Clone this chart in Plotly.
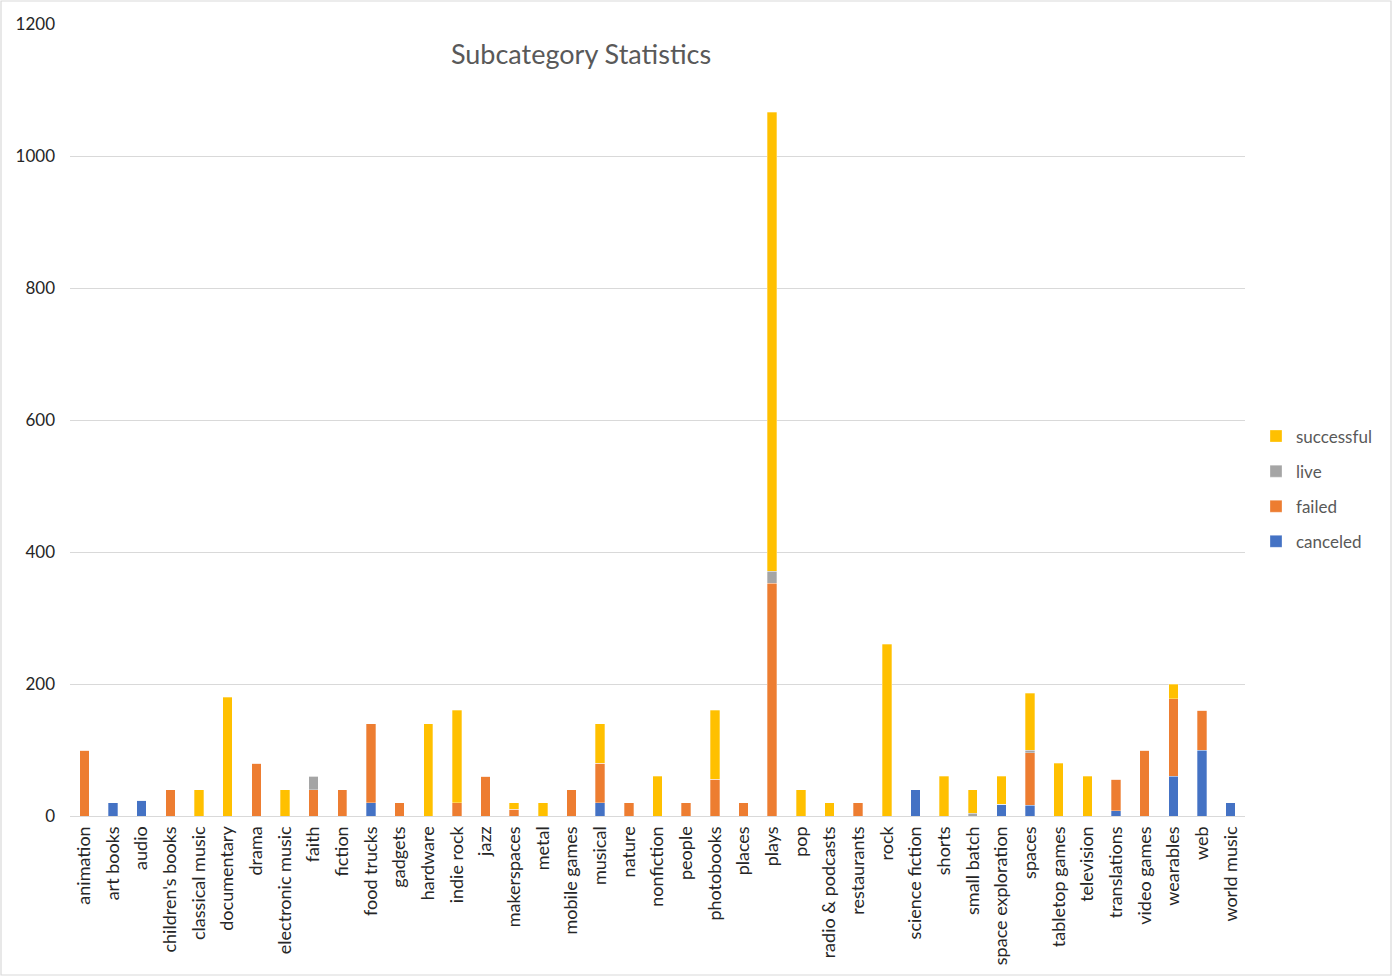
import plotly.graph_objects as go

# Subcategory outcome counts
subcategories = ["animation", "art books", "audio", "children's books", "classical music",
                 "documentary", "drama", "electronic music", "faith", "fiction", "food trucks",
                 "gadgets", "hardware", "indie rock", "jazz", "makerspaces", "metal",
                 "mobile games", "musical", "nature", "nonfiction", "people", "photobooks",
                 "places", "plays", "pop", "radio & podcasts", "restaurants", "rock",
                 "science fiction", "shorts", "small batch", "space exploration", "spaces",
                 "tabletop games", "television", "translations", "video games", "wearables",
                 "web", "world music"]

canceled = [0, 20, 24, 0, 0, 0, 0, 0, 0, 0, 20,
            0, 0, 0, 0, 0, 0, 0, 20, 0, 0, 0, 0,
            0, 0, 0, 0, 0, 0, 40, 0, 0, 18, 16,
            0, 0, 8, 0, 60, 100, 20]
failed = [100, 0, 0, 40, 0, 0, 80, 0, 40, 40, 120,
          20, 0, 20, 60, 10, 0, 40, 60, 20, 0, 20, 56,
          20, 353, 0, 0, 20, 0, 0, 0, 0, 0, 80,
          0, 0, 48, 100, 118, 60, 0]
live = [0, 0, 0, 0, 0, 0, 0, 0, 20, 0, 0,
        0, 0, 0, 0, 0, 0, 0, 0, 0, 0, 0, 0,
        0, 18, 0, 0, 0, 0, 0, 0, 4, 0, 4,
        0, 0, 0, 0, 0, 0, 0]
successful = [0, 0, 0, 0, 40, 180, 0, 40, 0, 0, 0,
              0, 140, 140, 0, 10, 20, 0, 60, 0, 60, 0, 104,
              0, 695, 40, 20, 0, 260, 0, 60, 36, 42, 86,
              80, 60, 0, 0, 22, 0, 0]

series = [("canceled", canceled, "#4472C4"),
          ("failed", failed, "#ED7D31"),
          ("live", live, "#A5A5A5"),
          ("successful", successful, "#FFC000")]

W, H = 1393, 977
ML, MR, MT, MB = 70, 148, 24, 161
pw, ph = W - ML - MR, H - MT - MB

fig = go.Figure()
for i, (name, vals, col) in enumerate(series):
    fig.add_trace(go.Bar(name=name, x=subcategories, y=vals, legendgroup=name,
                         legendrank=len(series) - i,
                         marker=dict(color=col, line=dict(color="rgba(255,255,255,0.5)", width=0.6))))

txt = "#595959"
fig.update_layout(
    barmode="stack", bargap=0.67,
    width=W, height=H,
    margin=dict(l=ML, r=MR, t=MT, b=MB),
    paper_bgcolor="white", plot_bgcolor="white",
    font=dict(family="Lato, Open Sans, sans-serif", color=txt, size=15),
    title=dict(text="Subcategory Statistics", x=581 / W, y=1 - 55 / H,
               xanchor="center", yanchor="middle",
               font=dict(size=27, color=txt, family="Lato, Open Sans, sans-serif")),
    legend=dict(traceorder="grouped", x=(1256 - ML) / pw, y=(816 - 489) / ph,
                xanchor="left", yanchor="middle", itemwidth=30, tracegroupgap=10,
                font=dict(size=17, color=txt), bgcolor="rgba(0,0,0,0)"),
    showlegend=True,
)
fig.update_xaxes(tickangle=-90, showgrid=False, showline=True, linecolor="#D9D9D9",
                 linewidth=1.3, ticks="", ticklabelstandoff=2,
                 tickfont=dict(size=18, color="#262626"))
fig.update_yaxes(range=[0, 1200], dtick=200, showgrid=True, gridcolor="#D9D9D9",
                 gridwidth=1.3, zeroline=False, showline=False, ticks="",
                 ticklabelstandoff=14, tickfont=dict(size=17, color="#262626"))

# light chart border like the source spreadsheet chart
fig.add_shape(type="rect", xref="paper", yref="paper",
              x0=(1 - ML) / pw, x1=(W - 2 - ML) / pw,
              y0=(816 - (H - 2)) / ph, y1=(816 - 1) / ph,
              line=dict(color="#D9D9D9", width=1.2), layer="below")

fig.write_html("out.html", config={"displayModeBar": False},
               post_script="document.body.style.margin='0';")
